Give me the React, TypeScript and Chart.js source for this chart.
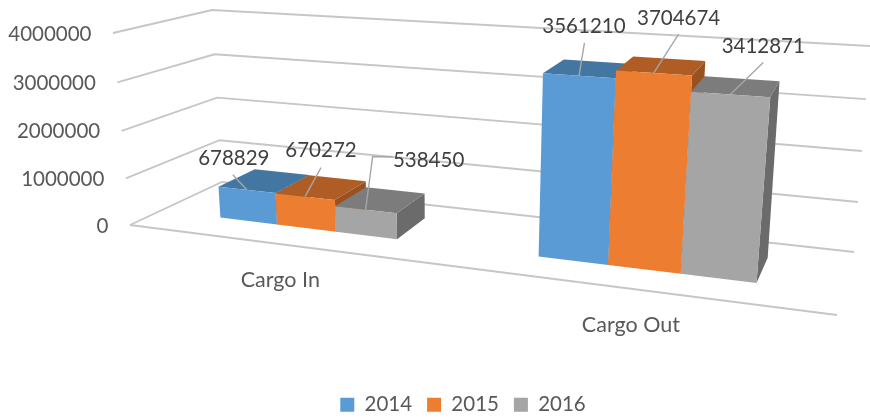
import React, { useEffect, useRef } from "react";
import { Chart, registerables } from "chart.js";

Chart.register(...registerables);

const categories = ["Cargo In", "Cargo Out"];
const seriesNames = ["2014", "2015", "2016"];
const values2014 = [678829, 3561210];
const values2015 = [670272, 3704674];
const values2016 = [538450, 3412871];
const seriesValues = [values2014, values2015, values2016];
const yTicks = [0, 1000000, 2000000, 3000000, 4000000];

const FRONT_COLORS = ["#5B9BD5", "#ED7D31", "#A5A5A5"];
const TOP_COLORS = ["#4476A2", "#B05D25", "#7C7C7C"];
const SIDE_COLORS = ["#3A658C", "#9A5120", "#6B6B6B"];
const FONT = "Lato, 'Open Sans', sans-serif";
const FONT_SIZE = 20.5;

// Corners of the drawn box on screen: [x side][height][depth]
const BOX = {
  A: [130, 225], // left, floor, front
  B: [837, 315], // right, floor, front
  C: [222, 182], // left, floor, back
  D: [854, 252], // right, floor, back
  E: [113, 33], // left, top, front
  H: [860, 82], // right, top, front
  F: [212, 10], // left, top, back
  G: [870, 46], // right, top, back
};
const X_WARP = 0.81;
const Y_WARP = 1.04;
const BAR_Z_FRONT = 0.34;
const BAR_Z_BACK = 0.76;

const mix = (a: number[], b: number[], t: number) => [a[0] + (b[0] - a[0]) * t, a[1] + (b[1] - a[1]) * t];

function project(chart: any, px: number, py: number, z: number) {
  const { left, right, top, bottom } = chart.chartArea;
  const x = (px - left) / (right - left);
  const v = (bottom - py) / (bottom - top);
  const s = (x * X_WARP) / (1 - x + x * X_WARP);
  const t = v / (v + (1 - v) * Y_WARP);
  const floor = mix(mix(BOX.A, BOX.B, s), mix(BOX.C, BOX.D, s), z);
  const roof = mix(mix(BOX.E, BOX.H, s), mix(BOX.F, BOX.G, s), z);
  return mix(floor, roof, t);
}

function poly(ctx: CanvasRenderingContext2D, pts: number[][], fill: string) {
  ctx.beginPath();
  pts.forEach((p, i) => (i ? ctx.lineTo(p[0], p[1]) : ctx.moveTo(p[0], p[1])));
  ctx.closePath();
  ctx.fillStyle = fill;
  ctx.fill();
}

// Label centre and leader start relative to the point on the bar, per series and category
const labelOffsets = [
  [[-13, -31], [5, -49]],
  [[16, -46], [25, -55]],
  [[63, -49], [33, -48]],
];
const leaderPaths = [
  [[[-14, -15]], [[5.5, -33]]],
  [[[16, -29]], [[25, -39]]],
  [[[7, -53], [27, -53]], [[33, -32]]],
];

const box3d = {
  id: "box3d",
  afterLayout(chart: any) {
    chart.legend.left += 28;
    chart.legend.right += 28;
    chart.legend.top += 5;
    chart.legend.bottom += 5;
  },
  beforeDraw(chart: any) {
    const { x: xs, y: ys } = chart.scales;
    const { left, right } = chart.chartArea;
    ys.getLabelItems(chart.chartArea).forEach((item: any, i: number) => {
      const p = project(chart, left, ys.getPixelForTick(i), 0);
      item.options.translation = [p[0] - 21.5, p[1] + 1];
      item.options.textAlign = "right";
      item.options.textBaseline = "middle";
      item.textOffset = 0;
    });
    xs.getLabelItems(chart.chartArea).forEach((item: any, i: number) => {
      const p = project(chart, xs.getPixelForTick(i), chart.chartArea.bottom, 0);
      item.options.translation = [p[0], p[1] + 36];
      item.options.textAlign = "center";
      item.options.textBaseline = "middle";
      item.textOffset = 0;
    });
    const ctx = chart.ctx as CanvasRenderingContext2D;
    ctx.save();
    ctx.strokeStyle = "#C6C6C6";
    ctx.lineWidth = 1.8;
    ctx.lineJoin = "miter";
    yTicks.forEach((tick) => {
      const py = ys.getPixelForValue(tick);
      const a = project(chart, left, py, 0);
      const b = project(chart, left, py, 1);
      const c = project(chart, right, py, 1);
      ctx.beginPath();
      ctx.moveTo(a[0], a[1]);
      ctx.lineTo(b[0], b[1]);
      ctx.lineTo(c[0], c[1]);
      ctx.stroke();
    });
    const py0 = ys.getPixelForValue(0);
    const f0 = project(chart, left, py0, 0);
    const f1 = project(chart, right, py0, 0);
    ctx.beginPath();
    ctx.moveTo(f0[0], f0[1]);
    ctx.lineTo(f1[0], f1[1]);
    ctx.stroke();
    ctx.restore();
  },
  beforeDatasetsDraw(chart: any) {
    const ctx = chart.ctx as CanvasRenderingContext2D;
    const anchors: number[][][] = [];
    chart.data.datasets.forEach((_: any, si: number) => {
      anchors[si] = [];
      chart.getDatasetMeta(si).data.forEach((bar: any, ci: number) => {
        const l = bar.x - bar.width / 2;
        const r = bar.x + bar.width / 2;
        const t = bar.y;
        const b = bar.base;
        const ftl = project(chart, l, t, BAR_Z_FRONT);
        const ftr = project(chart, r, t, BAR_Z_FRONT);
        const fbl = project(chart, l, b, BAR_Z_FRONT);
        const fbr = project(chart, r, b, BAR_Z_FRONT);
        const btl = project(chart, l, t, BAR_Z_BACK);
        const btr = project(chart, r, t, BAR_Z_BACK);
        const bbr = project(chart, r, b, BAR_Z_BACK);
        poly(ctx, [fbr, ftr, btr, bbr], SIDE_COLORS[si]);
        poly(ctx, [ftl, ftr, btr, btl], TOP_COLORS[si]);
        poly(ctx, [ftl, ftr, fbr, fbl], FRONT_COLORS[si]);
        anchors[si][ci] = project(chart, bar.x, t, BAR_Z_FRONT);
      });
    });
    ctx.save();
    ctx.strokeStyle = "#A6A6A6";
    ctx.lineWidth = 1.4;
    ctx.font = `${FONT_SIZE}px ${FONT}`;
    ctx.fillStyle = "#404040";
    ctx.textAlign = "center";
    ctx.textBaseline = "middle";
    anchors.forEach((row, si) =>
      row.forEach((p, ci) => {
        ctx.beginPath();
        ctx.moveTo(p[0], p[1]);
        leaderPaths[si][ci].forEach((o) => ctx.lineTo(p[0] + o[0], p[1] + o[1]));
        ctx.stroke();
        const o = labelOffsets[si][ci];
        ctx.fillText(String(seriesValues[si][ci]), p[0] + o[0], p[1] + o[1]);
      })
    );
    ctx.restore();
    return false;
  },
};

export default function App() {
  const ref = useRef<HTMLCanvasElement>(null);
  useEffect(() => {
    document.body.style.margin = "0";
    const chart = new Chart(ref.current as HTMLCanvasElement, {
      type: "bar",
      data: {
        labels: categories,
        datasets: seriesNames.map((name, i) => ({
          label: name,
          data: seriesValues[i],
          backgroundColor: FRONT_COLORS[i],
          categoryPercentage: 0.58,
          barPercentage: 1,
        })),
      },
      options: {
        animation: false,
        responsive: false,
        plugins: {
          tooltip: { enabled: false },
          legend: {
            position: "bottom",
            labels: {
              boxWidth: 14,
              boxHeight: 14,
              padding: 15,
              color: "#595959",
              font: { family: FONT, size: FONT_SIZE },
            },
          },
        },
        scales: {
          x: {
            grid: { display: false },
            border: { display: false },
            ticks: { mirror: true, color: "#595959", font: { family: FONT, size: 21.5 }, maxRotation: 0 },
          },
          y: {
            min: 0,
            max: 4000000,
            grid: { display: false },
            border: { display: false },
            afterBuildTicks: (scale: any) => {
              scale.ticks = yTicks.map((value) => ({ value }));
            },
            ticks: {
              mirror: true,
              color: "#595959",
              font: { family: FONT, size: FONT_SIZE },
              callback: (value: any) => String(value),
            },
          },
        },
      },
      plugins: [box3d],
    } as any);
    return () => chart.destroy();
  }, []);
  return (
    <div style={{ width: 870, height: 420 }}>
      <canvas ref={ref} width={870} height={420} style={{ display: "block" }} />
    </div>
  );
}
